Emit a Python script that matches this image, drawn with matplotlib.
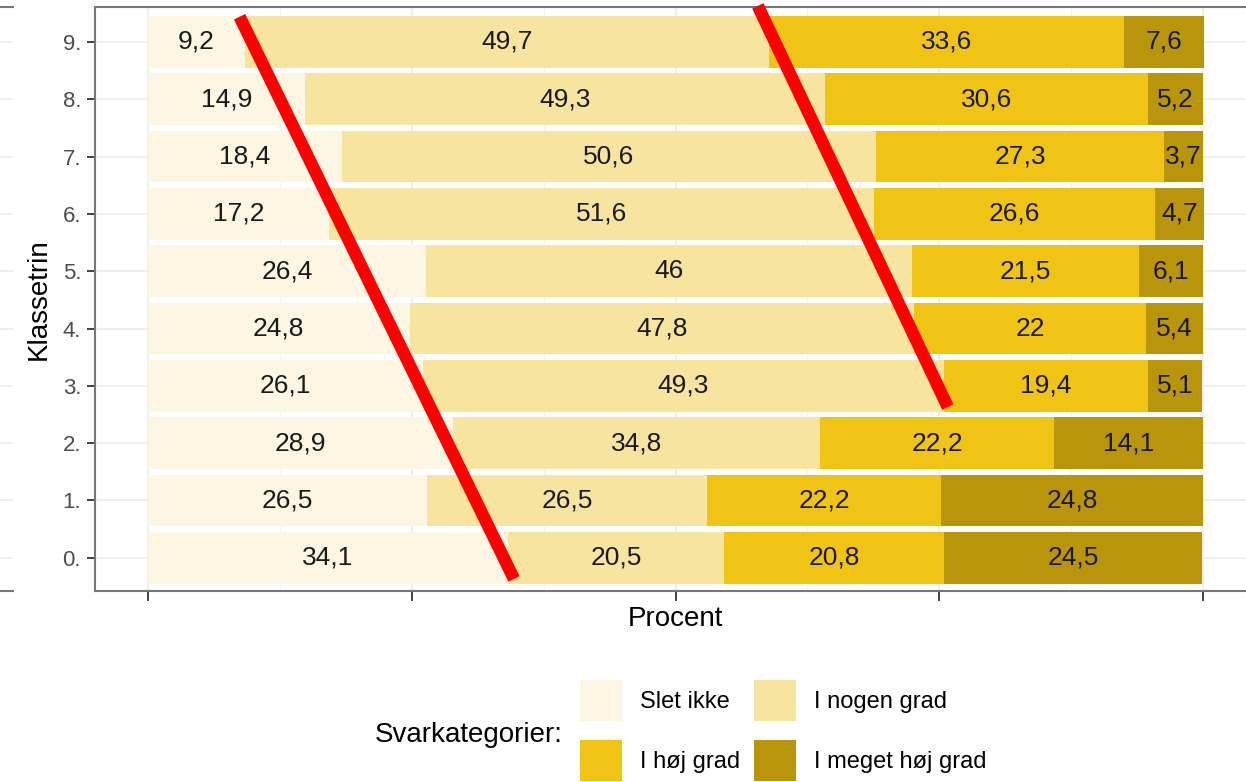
import numpy as np
import matplotlib
matplotlib.use('Agg')
import matplotlib.pyplot as plt
from matplotlib.patches import Patch

plt.rcParams['font.family'] = ['Liberation Sans', 'DejaVu Sans']

# data
klassetrin = [0, 1, 2, 3, 4, 5, 6, 7, 8, 9]
kategorier = ['Slet ikke', 'I nogen grad', 'I høj grad', 'I meget høj grad']
slet_ikke = [34.1, 26.5, 28.9, 26.1, 24.8, 26.4, 17.2, 18.4, 14.9, 9.2]
nogen_grad = [20.5, 26.5, 34.8, 49.3, 47.8, 46, 51.6, 50.6, 49.3, 49.7]
hoj_grad = [20.8, 22.2, 22.2, 19.4, 22, 21.5, 26.6, 27.3, 30.6, 33.6]
meget_hoj_grad = [24.5, 24.8, 14.1, 5.1, 5.4, 6.1, 4.7, 3.7, 5.2, 7.6]
farver = ['#FDF6E3', '#F7E49E', '#F0C414', '#B8950A']

# red annotation strokes (data coords)
streg1_x = [8.7, 34.7]
streg1_y = [9.44, -0.37]
streg2_x = [57.8, 75.8]
streg2_y = [9.63, 2.63]

W, H = 1246, 782
fig = plt.figure(figsize=(W / 100, H / 100), dpi=100)

# main panel (cropped on the right in the original)
ax = fig.add_axes([95 / W, (H - 591) / H, (1256 - 95) / W, (591 - 7) / H])
ylim = (-0.58, 9.61)

serier = [slet_ikke, nogen_grad, hoj_grad, meget_hoj_grad]
venstre = np.zeros(len(klassetrin))
for navn, vals, farve in zip(kategorier, serier, farver):
    vals = np.array(vals, dtype=float)
    bars = ax.barh(klassetrin, vals, left=venstre, height=0.9, color=farve,
                   edgecolor='none', zorder=2)
    etiketter = ['{:g}'.format(v).replace('.', ',') for v in vals]
    ax.bar_label(bars, labels=etiketter, label_type='center', fontsize=19,
                 color='#1a1a1a')
    venstre += vals

ax.plot(streg1_x, streg1_y, color='#FF0000', lw=9, solid_capstyle='butt',
        clip_on=False, zorder=5)
ax.plot(streg2_x, streg2_y, color='#FF0000', lw=9, solid_capstyle='butt',
        clip_on=False, zorder=5)

ax.set_xlim(-5, 105)
ax.set_ylim(*ylim)
ax.set_xticks([0, 25, 50, 75, 100])
ax.set_xticklabels([])
ax.set_xticks([12.5, 37.5, 62.5, 87.5], minor=True)
ax.set_yticks(klassetrin)
ax.set_yticklabels([f'{k}.' for k in klassetrin], fontsize=16, color='#4D4D4D')
ax.tick_params(axis='x', which='major', length=7, width=1.3, color='#333333')
ax.tick_params(axis='x', which='minor', length=0)
ax.tick_params(axis='y', length=6, width=1.3, color='#333333', pad=4)
ax.grid(True, which='major', color='#EBEBEB', lw=1.1, zorder=0)
ax.grid(True, which='minor', axis='x', color='#F2F2F2', lw=0.6, zorder=0)
ax.set_axisbelow(True)
for s in ['left', 'top', 'bottom']:
    ax.spines[s].set_color('#777777')
    ax.spines[s].set_linewidth(1.5)
ax.spines['right'].set_visible(False)

ax.set_xlabel('Procent', fontsize=20, labelpad=0)
ax.set_ylabel('Klassetrin', fontsize=20, labelpad=8)

# fragment of neighbouring panel on the left
ax2 = fig.add_axes([0, (H - 591) / H, 13 / W, (591 - 7) / H])
ax2.set_ylim(*ylim)
ax2.set_yticks(klassetrin)
ax2.set_xticks([])
ax2.tick_params(axis='y', length=0, labelleft=False)
ax2.grid(True, axis='y', color='#EBEBEB', lw=1.1)
for s in ['left', 'right']:
    ax2.spines[s].set_visible(False)
for s in ['top', 'bottom']:
    ax2.spines[s].set_color('#777777')
    ax2.spines[s].set_linewidth(1.5)

# legend
handles = [Patch(facecolor=f, edgecolor='none', label=k) for k, f in zip(kategorier, farver)]
order = [0, 2, 1, 3]
fig.legend([handles[i] for i in order], [kategorier[i] for i in order],
           ncol=2, loc='upper left', bbox_to_anchor=(580 / W, 1 - 680 / H),
           frameon=False, fontsize=17, borderpad=0, borderaxespad=0,
           handlelength=1.78, handleheight=2.3, handletextpad=0.76,
           labelspacing=0.8, columnspacing=0.6)
fig.text(563 / W, 1 - 735 / H, 'Svarkategorier:', fontsize=20, ha='right', va='center')

fig.savefig('out.png', dpi=100)
